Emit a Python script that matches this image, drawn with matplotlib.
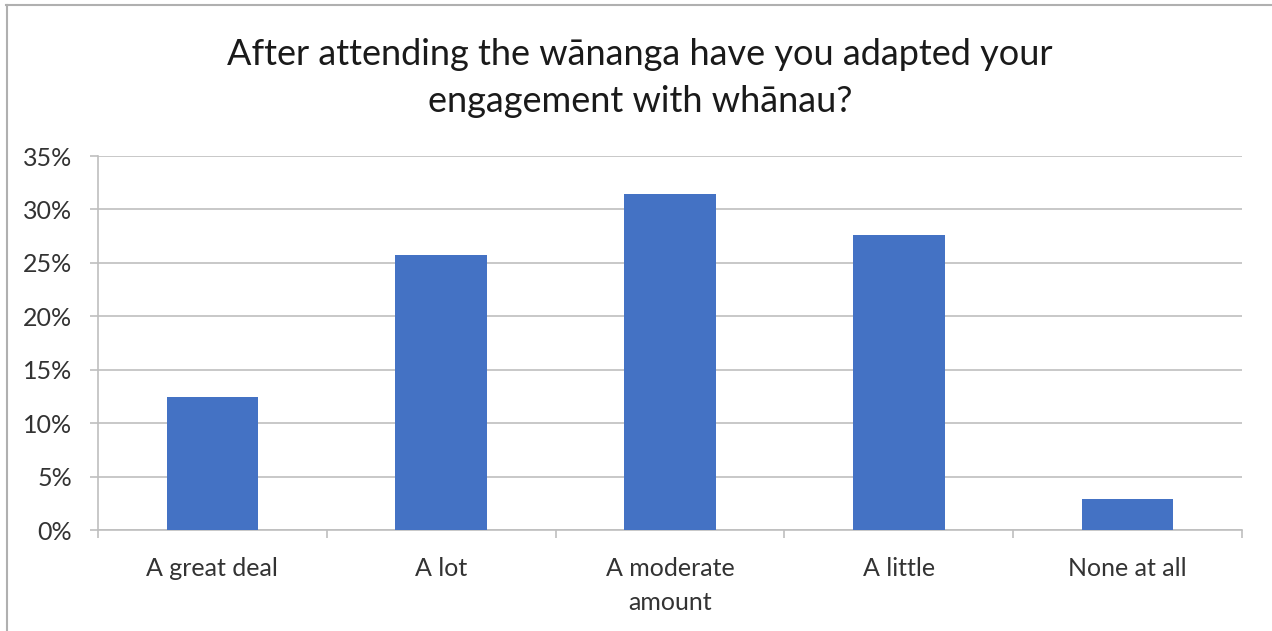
import matplotlib
matplotlib.use("Agg")
import matplotlib.pyplot as plt
from matplotlib.lines import Line2D
from matplotlib.ticker import FuncFormatter, FixedLocator

categories = ["A great deal", "A lot", "A moderate\namount", "A little", "None at all"]
values = [12.4, 25.7, 31.4, 27.6, 2.9]
yticks = [0, 5, 10, 15, 20, 25, 30, 35]
title = "After attending the wānanga have you adapted your\nengagement with whānau?"

plt.rcParams['font.family'] = ['Lato', 'DejaVu Sans']

W, H = 1272, 631
fig = plt.figure(figsize=(W / 100, H / 100), dpi=100)
ax = fig.add_axes([98 / W, 1 - 530 / H, (1242 - 98) / W, (530 - 156) / H])

grid_c = "#bfbfbf"
text_c = "#333333"

x = list(range(len(categories)))
ax.bar(x, values, width=0.4, color="#4472c4", zorder=3)

ax.set_xlim(-0.5, len(categories) - 0.5)
ax.set_ylim(0, 35)
ax.set_yticks(yticks)
ax.yaxis.set_major_formatter(FuncFormatter(lambda v, p: f"{int(v)}%"))
ax.yaxis.grid(True, color=grid_c, linewidth=1.2, zorder=0)
ax.set_axisbelow(True)

ax.set_xticks(x)
ax.set_xticklabels(categories, fontsize=18, color=text_c, linespacing=1.6)
ax.xaxis.set_minor_locator(FixedLocator([i - 0.5 for i in range(len(categories) + 1)]))
ax.tick_params(axis='x', which='major', length=0, pad=19.5)
ax.tick_params(axis='x', which='minor', length=6, color=grid_c, width=1.2, direction='out')
ax.tick_params(axis='y', which='major', length=6, color=grid_c, width=1.2, labelsize=18,
               labelcolor=text_c, pad=12.5)

for s in ['top', 'right']:
    ax.spines[s].set_visible(False)
for s in ['left', 'bottom']:
    ax.spines[s].set_color(grid_c)
    ax.spines[s].set_linewidth(1.2)

fig.text(640 / W, 1 - 78 / H, title, ha='center', va='center', fontsize=26,
         color="#1a1a1a", linespacing=1.55)

# chart frame (top and left edges visible)
fig.add_artist(Line2D([6 / W, 1], [1 - 4.5 / H, 1 - 4.5 / H], color="#b0b0b0", lw=1.5,
                      transform=fig.transFigure))
fig.add_artist(Line2D([6.5 / W, 6.5 / W], [0, 1 - 4.5 / H], color="#b0b0b0", lw=1.5,
                      transform=fig.transFigure))

fig.savefig("out.png", dpi=100)
